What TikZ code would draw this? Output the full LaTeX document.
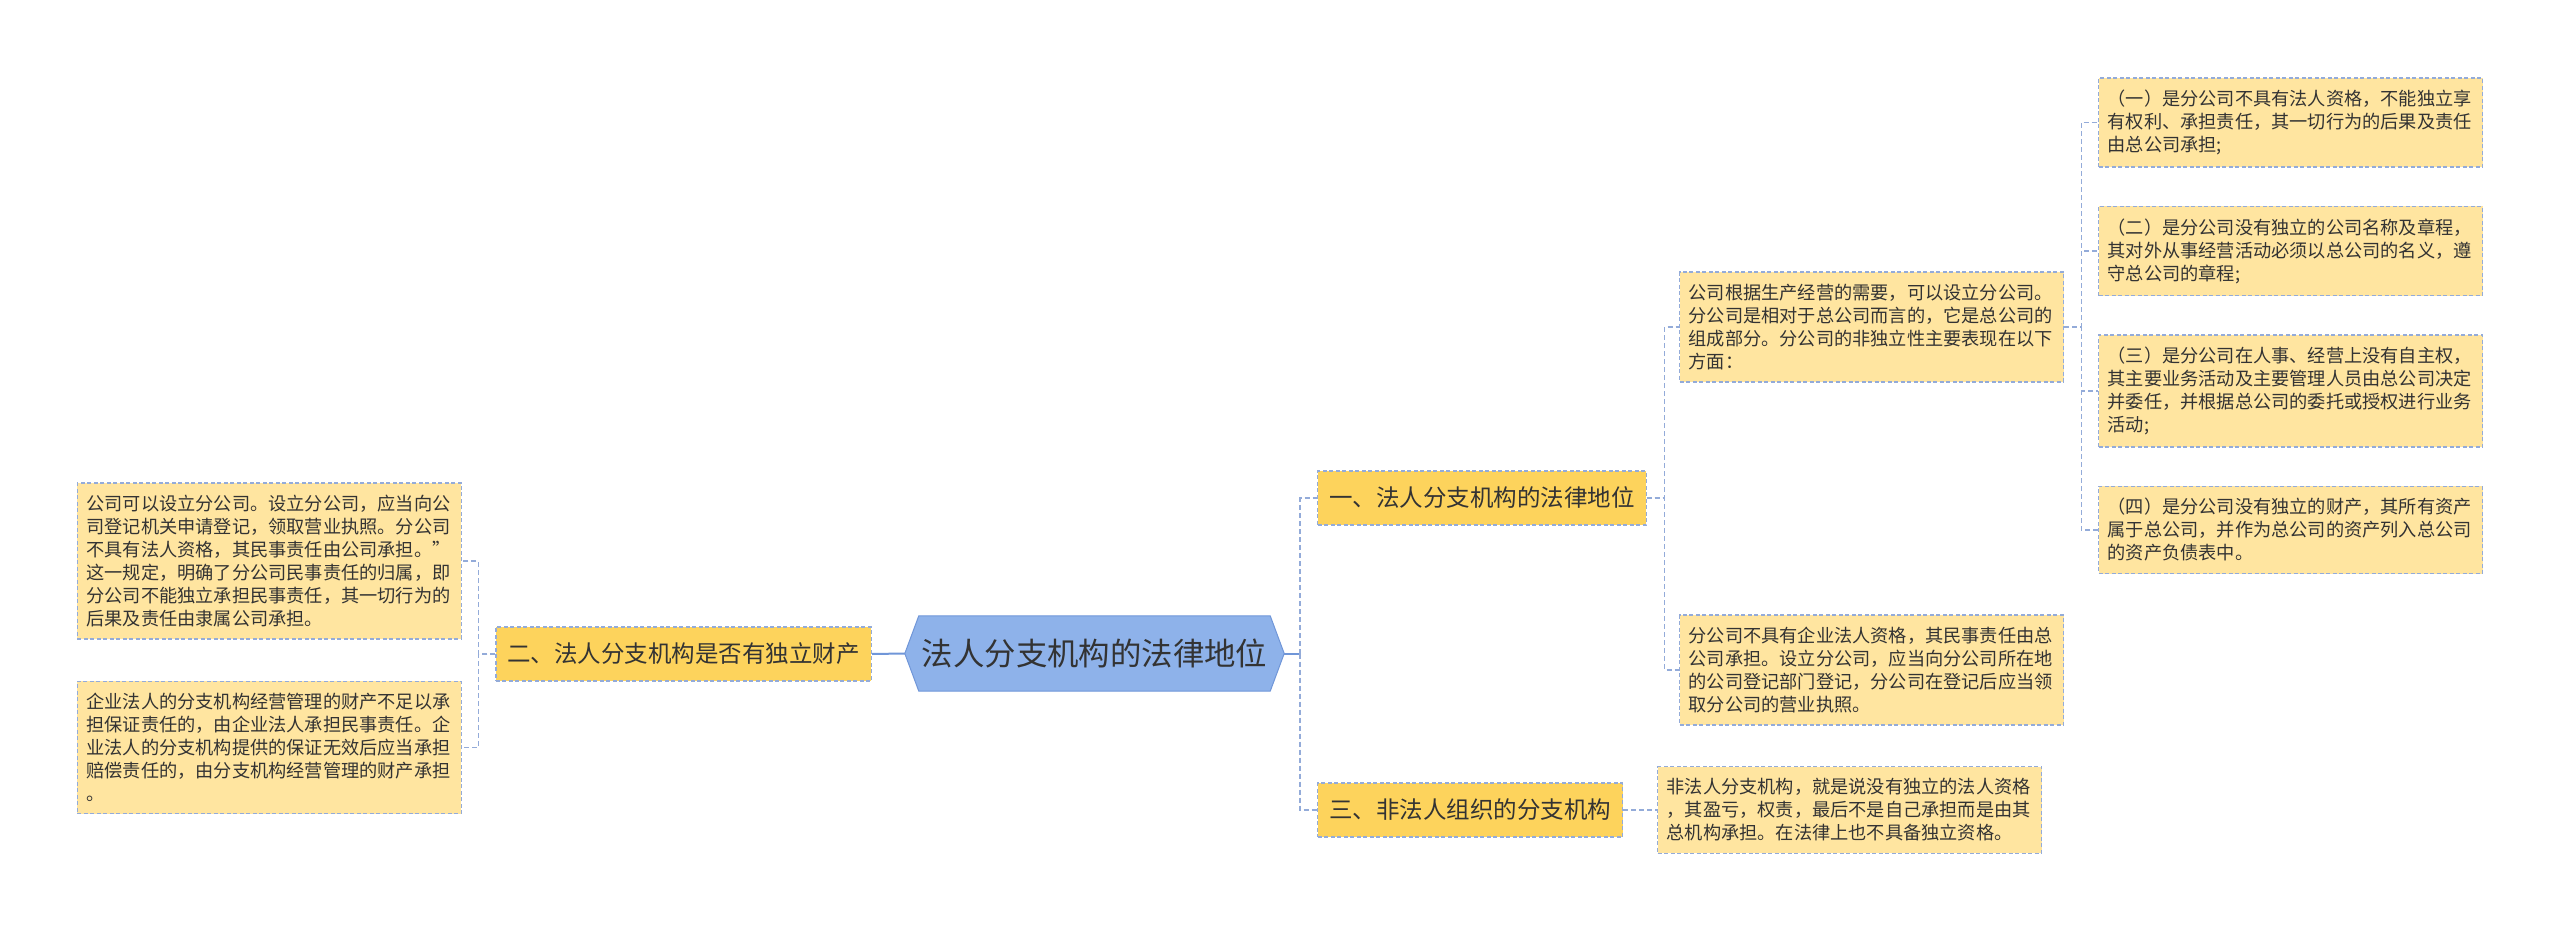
\documentclass[tikz,border=0pt]{standalone}
\usepackage{fontspec}
\setmainfont{Noto Sans CJK SC}
\usetikzlibrary{backgrounds}

\definecolor{rootblue}{HTML}{8EB2EA}
\definecolor{rootline}{HTML}{7096D8}
\definecolor{linkblue}{HTML}{93ABD9}
\definecolor{topgold}{HTML}{FDD35C}
\definecolor{leafgold}{HTML}{FFE5A0}
\definecolor{inkgray}{HTML}{333333}

\begin{document}
\begin{tikzpicture}[x=1pt, y=-1pt,
	every node/.style={text=inkgray, inner sep=0pt},
	rootbox/.style={minimum width=351pt, minimum height=75pt, font=\fontsize{31.4}{36}\selectfont},
	topbox/.style={fill=topgold, draw=linkblue, line width=1.2pt, dash pattern=on 4pt off 2.5pt, minimum height=54pt, inner xsep=11.5pt, font=\fontsize{23.5}{28}\selectfont},
	leafbox/.style={fill=leafgold, draw=linkblue, line width=1.2pt, dash pattern=on 4pt off 2.5pt, text width=366pt, align=left, inner xsep=9pt, inner ysep=12pt, font=\fontsize{18.2}{23}\selectfont},
	link/.style={draw=linkblue, line width=1.3pt, dash pattern=on 5pt off 3pt},
	mainlink/.style={draw=rootline, line width=2pt}]
	\useasboundingbox (0,0) rectangle (2560,933);
	\node[rootbox] (root) at (1094.5,653.5) {法人分支机构的法律地位};
	\begin{scope}[on background layer]
		\draw[fill=rootblue, draw=rootline, line width=1pt] ([xshift=-14pt]root.west) -- (root.north west) -- (root.north east) -- ([xshift=14pt]root.east) -- (root.south east) -- (root.south west) -- cycle;
	\end{scope}
	\node[topbox, anchor=east] (two) at (872,654) {二、法人分支机构是否有独立财产};
	\node[topbox, anchor=west] (one) at (1317,498) {一、法人分支机构的法律地位};
	\node[topbox, anchor=west] (three) at (1317,810) {三、非法人组织的分支机构};
	\draw[mainlink] ([xshift=-14pt]root.west) -- (two.east);
	\draw[mainlink] ([xshift=14pt]root.east) -- ++(16,0) coordinate (hub);
	\draw[link, line width=2pt] (hub) |- (one.west);
	\draw[link, line width=2pt] (hub) |- (three.west);
	\node[leafbox, anchor=east] (la) at (462,561) {公司可以设立分公司。设立分公司，应当向公\\司登记机关申请登记，领取营业执照。分公司\\不具有法人资格，其民事责任由公司承担。”\\这一规定，明确了分公司民事责任的归属，即\\分公司不能独立承担民事责任，其一切行为的\\后果及责任由隶属公司承担。};
	\node[leafbox, anchor=east] (lb) at (462,747.5) {企业法人的分支机构经营管理的财产不足以承\\担保证责任的，由企业法人承担民事责任。企\\业法人的分支机构提供的保证无效后应当承担\\赔偿责任的，由分支机构经营管理的财产承担\\。};
	\draw[link] (two.west) -- ++(-17,0) |- (la.east);
	\draw[link] (two.west) -- ++(-17,0) |- (lb.east);
	\node[leafbox, anchor=west] (ra) at (1679,327) {公司根据生产经营的需要，可以设立分公司。\\分公司是相对于总公司而言的，它是总公司的\\组成部分。分公司的非独立性主要表现在以下\\方面：};
	\node[leafbox, anchor=west] (rb) at (1679,670) {分公司不具有企业法人资格，其民事责任由总\\公司承担。设立分公司，应当向分公司所在地\\的公司登记部门登记，分公司在登记后应当领\\取分公司的营业执照。};
	\draw[link] (one.east) -- ++(18,0) |- (ra.west);
	\draw[link] (one.east) -- ++(18,0) |- (rb.west);
	\foreach \n/\y/\t in {
		r1/122.5/{（一）是分公司不具有法人资格，不能独立享\\有权利、承担责任，其一切行为的后果及责任\\由总公司承担;},
		r2/251/{（二）是分公司没有独立的公司名称及章程，\\其对外从事经营活动必须以总公司的名义，遵\\守总公司的章程;},
		r3/391/{（三）是分公司在人事、经营上没有自主权，\\其主要业务活动及主要管理人员由总公司决定\\并委任，并根据总公司的委托或授权进行业务\\活动;},
		r4/530/{（四）是分公司没有独立的财产，其所有资产\\属于总公司，并作为总公司的资产列入总公司\\的资产负债表中。}} {
		\node[leafbox, anchor=west] (\n) at (2098,\y) {\t};
		\draw[link] (ra.east) -- ++(17,0) |- (\n.west);
	}
	\node[leafbox, anchor=west] (tc) at (1657,810) {非法人分支机构，就是说没有独立的法人资格\\，其盈亏，权责，最后不是自己承担而是由其\\总机构承担。在法律上也不具备独立资格。};
	\draw[link] (three.east) -- (tc.west);
\end{tikzpicture}
\end{document}
